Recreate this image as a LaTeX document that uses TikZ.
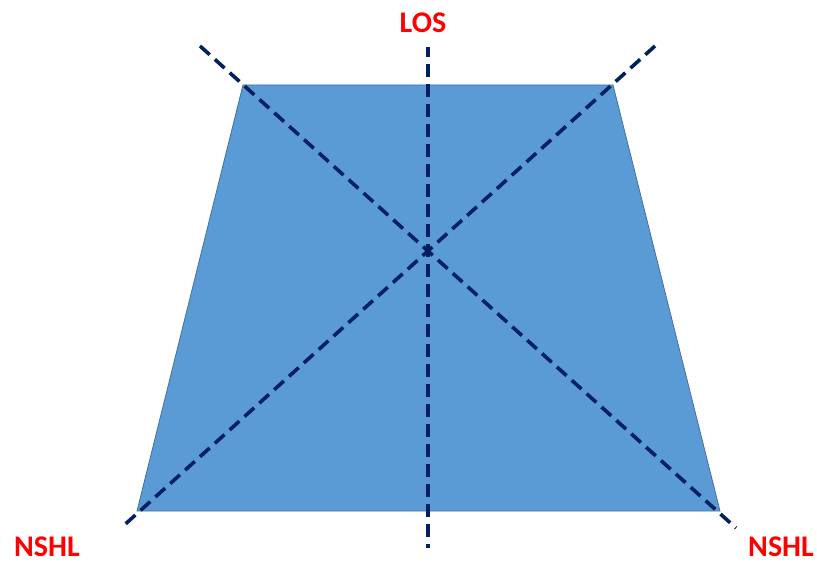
\documentclass[tikz,border=0pt]{standalone}
\usepackage{fontspec}
\setmainfont{Carlito}
\definecolor{areablue}{HTML}{5B9BD5}
\definecolor{areaedge}{HTML}{41719C}
\definecolor{axisnavy}{HTML}{002060}
\begin{document}
\begin{tikzpicture}[x=1pt,y=-1pt,
  area/.style={fill=areablue,draw=areaedge,line width=0.8pt},
  axis/.style={draw=axisnavy,line width=3.6pt,dash pattern=on 13pt off 7pt},
  tag/.style={text=red,inner sep=0pt,font=\bfseries\fontsize{30}{30}\selectfont},
  every node/.style={font=\small}]
\coordinate (tl) at (243,85);
\coordinate (tr) at (613,85);
\coordinate (br) at (720,511);
\coordinate (bl) at (137,511);
\fill[area] (tl) -- (tr) -- (br) -- (bl) -- cycle;
\coordinate (los0) at (428,47);
\coordinate (los1) at (428,548);
\coordinate (a0) at (200,46);
\coordinate (a1) at (736,528);
\coordinate (b0) at (655,46);
\coordinate (b1) at (121,528);
\draw[axis,dash phase=3pt] (los0) -- (los1);
\draw[axis] (a0) -- (a1);
\draw[axis] (b0) -- (b1);
\node[tag] (los) at (423,23) {LOS};
\node[tag] (nshlL) at (47,547) {NSHL};
\node[tag] (nshlR) at (781,547) {NSHL};
\path[use as bounding box] (0,0) rectangle (817,564);
\end{tikzpicture}
\end{document}
